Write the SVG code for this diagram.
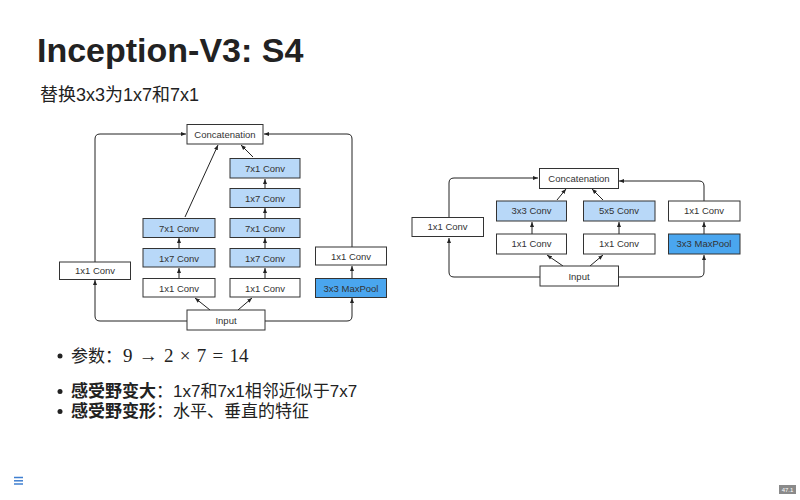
<svg xmlns="http://www.w3.org/2000/svg" width="800" height="500" viewBox="0 0 800 500">
<style>
.box{fill:#fff;stroke:#333;stroke-width:1}
.lb{fill:#b8d8f8;stroke:#333;stroke-width:1}
.db{fill:#4aa6ef;stroke:#333;stroke-width:1}
.bt{font-family:"Liberation Sans",Arial,sans-serif;font-size:9.5px;fill:#333;text-anchor:middle}
.ln{fill:none;stroke:#222;stroke-width:1}
.t{font-family:"Liberation Sans","Noto Sans CJK SC",sans-serif;fill:#222}
</style>
<defs>
<marker id="ah" viewBox="0 0 10 10" refX="10" refY="5" markerWidth="5" markerHeight="5" orient="auto-start-reverse">
<path d="M0,1 L10,5 L0,9 z" fill="#222"/>
</marker>
</defs>
<rect width="800" height="500" fill="#fff"/>
<text class="t" x="37" y="62" font-size="34" font-weight="bold">Inception-V3: S4</text>
<text class="t" x="40" y="101" font-size="18">替换3x3为1x7和7x1</text>

<g id="connectors-left" marker-end="url(#ah)">
<path class="ln" d="M187,321 H100 Q95,321 95,316 V280"/>
<path class="ln" d="M95,262 V139 Q95,134 100,134 H186"/>
<path class="ln" d="M265,321 H347 Q352,321 352,316 V298"/>
<path class="ln" d="M352,278 V266"/>
<path class="ln" d="M352,247 V139 Q352,134 347,134 H264"/>
<path class="ln" d="M210,310 L195,298"/>
<path class="ln" d="M238,310 L252,298"/>
<path class="ln" d="M179,278 V268"/>
<path class="ln" d="M179,248 V238"/>
<path class="ln" d="M185,217 L218,145"/>
<path class="ln" d="M265,278 V268"/>
<path class="ln" d="M265,248 V238"/>
<path class="ln" d="M265,218 V208"/>
<path class="ln" d="M265,188 V179"/>
<path class="ln" d="M253,157 L241,145"/>
</g>

<g id="connectors-right" marker-end="url(#ah)">
<path class="ln" d="M540,277 H454 Q449,277 449,272 V238"/>
<path class="ln" d="M449,217 V183 Q449,178 454,178 H538"/>
<path class="ln" d="M618,277 H699 Q704,277 704,272 V255"/>
<path class="ln" d="M704,234 V222"/>
<path class="ln" d="M704,201 V186 Q704,181 699,181 H619"/>
<path class="ln" d="M563,266 L547,255"/>
<path class="ln" d="M590,266 L603,255"/>
<path class="ln" d="M532,234 V222"/>
<path class="ln" d="M619,234 V222"/>
<path class="ln" d="M557,200 L566,189"/>
<path class="ln" d="M603,200 L592,189"/>
</g>

<g id="L-concat"><rect class="box" x="187" y="124.5" width="76" height="19.5"/><text class="bt" x="225" y="137.5">Concatenation</text></g>
<g id="L-c2-7x1b"><rect class="lb" x="230" y="158.5" width="70" height="19.5"/><text class="bt" x="265" y="171.5">7x1 Conv</text></g>
<g id="L-c2-1x7b"><rect class="lb" x="230" y="188.5" width="70" height="19"/><text class="bt" x="265" y="201.5">1x7 Conv</text></g>
<g id="L-c2-7x1a"><rect class="lb" x="230" y="218.5" width="70" height="19"/><text class="bt" x="265" y="231.5">7x1 Conv</text></g>
<g id="L-c2-1x7a"><rect class="lb" x="230" y="248.5" width="70" height="18.5"/><text class="bt" x="265" y="261.5">1x7 Conv</text></g>
<g id="L-c2-1x1"><rect class="box" x="230" y="278.5" width="70" height="18.5"/><text class="bt" x="265" y="291.5">1x1 Conv</text></g>
<g id="L-c1-7x1"><rect class="lb" x="143" y="218.5" width="72" height="19"/><text class="bt" x="179" y="231.5">7x1 Conv</text></g>
<g id="L-c1-1x7"><rect class="lb" x="143" y="248.5" width="72" height="18.5"/><text class="bt" x="179" y="261.5">1x7 Conv</text></g>
<g id="L-c1-1x1"><rect class="box" x="143" y="278.5" width="72" height="18.5"/><text class="bt" x="179" y="291.5">1x1 Conv</text></g>
<g id="L-1x1"><rect class="box" x="59.5" y="262" width="71" height="17.5"/><text class="bt" x="95" y="274">1x1 Conv</text></g>
<g id="L-p-1x1"><rect class="box" x="315.5" y="247" width="71" height="18"/><text class="bt" x="351" y="259.5">1x1 Conv</text></g>
<g id="L-pool"><rect class="db" x="315.5" y="278.5" width="71" height="19"/><text class="bt" x="351" y="291.5">3x3 MaxPool</text></g>
<g id="L-input"><rect class="box" x="187" y="310" width="78" height="20"/><text class="bt" x="226" y="323.5">Input</text></g>

<g id="R-concat"><rect class="box" x="539.5" y="168.5" width="79" height="20"/><text class="bt" x="579" y="181.5">Concatenation</text></g>
<g id="R-3x3"><rect class="lb" x="496.5" y="201" width="70" height="20"/><text class="bt" x="531.5" y="214">3x3 Conv</text></g>
<g id="R-5x5"><rect class="lb" x="583.5" y="201" width="71.5" height="20"/><text class="bt" x="619" y="214">5x5 Conv</text></g>
<g id="R-p-1x1"><rect class="box" x="668.5" y="201" width="71.5" height="20"/><text class="bt" x="704" y="214">1x1 Conv</text></g>
<g id="R-1x1"><rect class="box" x="412" y="217.5" width="71.5" height="19"/><text class="bt" x="447.5" y="230">1x1 Conv</text></g>
<g id="R-1x1a"><rect class="box" x="496.5" y="234" width="70" height="20"/><text class="bt" x="531.5" y="247">1x1 Conv</text></g>
<g id="R-1x1b"><rect class="box" x="583.5" y="234" width="71.5" height="20"/><text class="bt" x="619" y="247">1x1 Conv</text></g>
<g id="R-pool"><rect class="db" x="668.5" y="234" width="71.5" height="20"/><text class="bt" x="704" y="247">3x3 MaxPool</text></g>
<g id="R-input"><rect class="box" x="540" y="266" width="78.5" height="20"/><text class="bt" x="579" y="279.5">Input</text></g>

<g id="bullets">
<circle cx="60" cy="356" r="2.5" fill="#222"/>
<text class="t" x="71" y="362" font-size="17">参数：<tspan font-family="'Liberation Serif','DejaVu Serif',serif" font-size="19" dx="1" word-spacing="1.5">9 → 2 × 7 = 14</tspan></text>
<circle cx="60" cy="391.5" r="2.5" fill="#222"/>
<text class="t" x="71" y="397" font-size="17"><tspan font-weight="bold">感受野变大</tspan>：1x7和7x1相邻近似于7x7</text>
<circle cx="60" cy="411.5" r="2.5" fill="#222"/>
<text class="t" x="71" y="417" font-size="17"><tspan font-weight="bold">感受野变形</tspan>：水平、垂直的特征</text>
</g>

<g id="menu" stroke="#3f7fd0" stroke-width="1.5">
<line x1="14" y1="477.5" x2="23" y2="477.5"/>
<line x1="14" y1="480.8" x2="23" y2="480.8"/>
<line x1="14" y1="484" x2="23" y2="484"/>
</g>
<rect x="779" y="485" width="17" height="9" fill="#8a8a8a"/>
<text x="787.5" y="492" font-family="'Liberation Sans',sans-serif" font-size="6" fill="#fff" text-anchor="middle">47.1</text>
</svg>
